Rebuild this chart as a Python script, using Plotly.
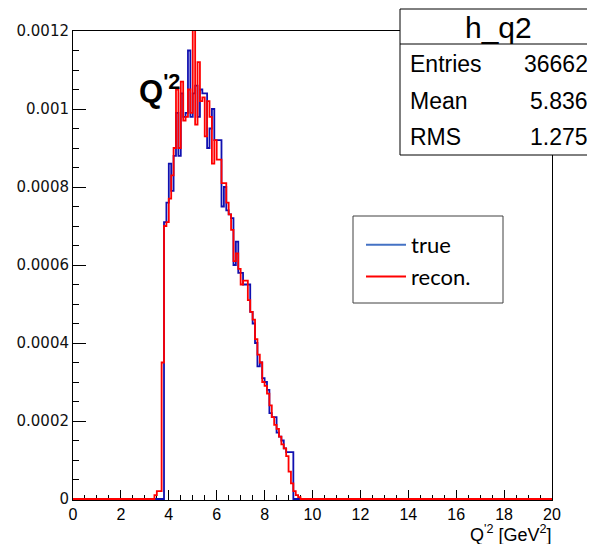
import numpy as np
import plotly.graph_objects as go

# ---------------- data ----------------
bin_width = 0.1
first_bin = 3.4          # lower edge of the first listed bin
x_min, x_max = 0.0, 20.0

true_vals = [
    0, 0, 0, 0,
    0.00071, 0.00076, 0.00086, 0.00079, 0.00088, 0.00099, 0.00088, 0.00104,
    0.00098, 0.00099, 0.00115, 0.00098, 0.00104, 0.00106, 0.00098, 0.00105,
    0.00104, 0.00104, 0.00090, 0.00095, 0.00100, 0.00092, 0.00092, 0.00092,
    0.00075, 0.00080, 0.00074, 0.00073, 0.00072, 0.00060, 0.00066, 0.00058,
    0.00058, 0.00055, 0.00055, 0.00055, 0.00048, 0.00045, 0.00040, 0.00034,
    0.00035, 0.00031, 0.00030, 0.00028, 0.00022, 0.00021, 0.00021, 0.00017,
    0.00016, 0.00015, 0.00013, 0.00012, 0.00012, 0.00012, 0, 0, 0,
]
recon_vals = [
    0.00001, 0.00002, 0.00002, 0.00035,
    0.00070, 0.00071, 0.00077, 0.00083, 0.00090, 0.00105, 0.00090, 0.00107,
    0.00097, 0.00098, 0.00105, 0.00099, 0.00125, 0.00096, 0.00112, 0.00102,
    0.00103, 0.00093, 0.00102, 0.00098, 0.00086, 0.00092, 0.00087, 0.00087,
    0.00081, 0.00081, 0.00076, 0.00073, 0.00069, 0.00061, 0.00063, 0.00059,
    0.00055, 0.00056, 0.00056, 0.00051, 0.00048, 0.00046, 0.00041, 0.00037,
    0.00035, 0.00030, 0.00029, 0.00027, 0.00024, 0.00021, 0.00019, 0.00018,
    0.00016, 0.00014, 0.00013, 0.00011, 0.00007, 0.00004, 0.00002, 0.00001, 0.000005,
]

x_tick_vals = list(range(0, 21, 2))
x_tick_text = [str(v) for v in x_tick_vals]
y_tick_vals = [0, 0.0002, 0.0004, 0.0006, 0.0008, 0.001, 0.0012]
y_tick_text = ["0", "0.0002", "0.0004", "0.0006", "0.0008", "0.001", "0.0012"]

stats_title = "h_q2"
stats_labels = ["Entries", "Mean", "RMS"]
stats_values = ["36662", "5.836", "1.275"]

series_names = ["true", "recon."]


def full_hist(vals):
    n = int(round((x_max - x_min) / bin_width))
    y = np.zeros(n)
    i0 = int(round((first_bin - x_min) / bin_width))
    y[i0:i0 + len(vals)] = vals
    edges = x_min + bin_width * np.arange(n + 1)
    return edges, np.append(y, y[-1])


# ---------------- geometry ----------------
# the page body has an 8px default margin, so the figure is drawn 8px in
OFF = 8
WIN_W, WIN_H = 595, 544
PL, PR, PT, PB = 73, 552, 31, 500          # plot area in window pixels
W, H = WIN_W - OFF, WIN_H - OFF
L, T = PL - OFF, PT - OFF
R, B = W - (PR - OFF), H - (PB - OFF)
pw, ph = PR - PL, PB - PT


def px(xp):
    return (xp - PL) / pw


def py(yp):
    return (PB - yp) / ph


fig = go.Figure()

xe, yb = full_hist(true_vals)
fig.add_trace(go.Scatter(x=xe, y=yb, mode="lines", line=dict(color="#1010b0", width=1.8, shape="hv"),
                         showlegend=False, hoverinfo="skip"))
xe, yr = full_hist(recon_vals)
fig.add_trace(go.Scatter(x=xe, y=yr, mode="lines", line=dict(color="#ff0000", width=1.8, shape="hv"),
                         showlegend=False, hoverinfo="skip"))

# legend-only entries
fig.add_trace(go.Scatter(x=[None], y=[None], mode="lines", name=series_names[0],
                         line=dict(color="#4472c4", width=2), legendgroup="a"))
fig.add_trace(go.Scatter(x=[None], y=[None], mode="lines", name=series_names[1],
                         line=dict(color="#ff0000", width=2), legendgroup="b"))

x_tick_font = dict(family="Liberation Sans, Arial, sans-serif", size=16, color="black")
y_tick_font = dict(family="DejaVu Sans, sans-serif", size=15, color="#111111")

fig.update_layout(
    width=W, height=H,
    margin=dict(l=L, r=R, t=T, b=B, pad=0, autoexpand=False),
    paper_bgcolor="white", plot_bgcolor="white",
    xaxis=dict(range=[x_min, x_max], tickvals=x_tick_vals, ticktext=x_tick_text,
               ticks="inside", ticklen=10, tickwidth=1, tickcolor="black",
               minor=dict(dtick=0.5, ticks="inside", ticklen=5, tickcolor="black", showgrid=False),
               showline=True, linecolor="black", linewidth=1, mirror=True, layer="below traces",
               showgrid=False, zeroline=False, tickfont=x_tick_font),
    yaxis=dict(range=[-0.0000025, 0.0012], tickvals=y_tick_vals, ticktext=y_tick_text,
               ticks="inside", ticklen=13, tickwidth=1, tickcolor="black",
               minor=dict(dtick=0.00005, ticks="inside", ticklen=6, tickcolor="black", showgrid=False),
               showline=True, linecolor="black", linewidth=1, mirror=True, layer="below traces",
               showgrid=False, zeroline=False, tickfont=y_tick_font),
    showlegend=True,
    legend=dict(x=px(361), y=py(224), xanchor="left", yanchor="top",
                bgcolor="rgba(0,0,0,0)", borderwidth=0, itemwidth=40,
                traceorder="grouped", tracegroupgap=0,
                font=dict(family="Lato, Open Sans, sans-serif", size=22, color="black")),
)

# legend box
fig.add_shape(type="rect", xref="paper", yref="paper", x0=px(353), x1=px(503), y0=py(303), y1=py(216),
              line=dict(color="#404040", width=1), fillcolor="rgba(0,0,0,0)", layer="above")

# stats box
fig.add_shape(type="rect", xref="paper", yref="paper", x0=px(400), x1=px(594), y0=py(155), y1=py(9),
              line=dict(color="black", width=1), fillcolor="white", layer="above")
fig.add_shape(type="line", xref="paper", yref="paper", x0=px(400), x1=px(594), y0=py(44), y1=py(44),
              line=dict(color="black", width=1), layer="above")

stat_font = dict(family="Liberation Sans, Arial, sans-serif", size=23, color="black")
fig.add_annotation(x=px(498), y=py(27), xref="paper", yref="paper", text=stats_title, showarrow=False,
                   xanchor="center", yanchor="middle",
                   font=dict(family="Liberation Sans, Arial, sans-serif", size=30, color="black"))
for i, (lab, val) in enumerate(zip(stats_labels, stats_values)):
    yy = [64, 100.5, 137][i]
    fig.add_annotation(x=px(408), y=py(yy), xref="paper", yref="paper", text=lab, showarrow=False,
                       xanchor="left", yanchor="middle", font=stat_font)
    fig.add_annotation(x=px(590), y=py(yy), xref="paper", yref="paper", text=val, showarrow=False,
                       xanchor="right", yanchor="middle", font=stat_font)

# in-plot label
fig.add_annotation(x=px(137), y=py(89), xref="paper", yref="paper", text="<b>Q<sup>'2</sup></b>",
                   showarrow=False, xanchor="left", yanchor="middle",
                   font=dict(family="Liberation Sans, Arial, sans-serif", size=31, color="black"))

# x-axis title (right aligned, ROOT style)
fig.add_annotation(x=px(554), y=py(533), xref="paper", yref="paper", text="Q<sup>'2</sup> [GeV<sup>2</sup>]",
                   showarrow=False, xanchor="right", yanchor="middle",
                   font=dict(family="Liberation Sans, Arial, sans-serif", size=18, color="black"))

fig.write_html("out.html")
